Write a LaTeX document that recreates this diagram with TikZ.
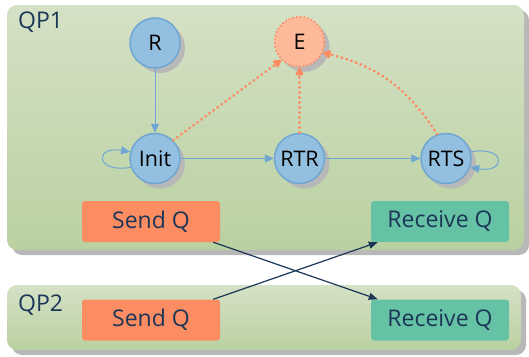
\documentclass[tikz,border=0pt]{standalone}
\usepackage{fontspec}
\setmainfont{Open Sans}
\usepackage{xcolor}
\usetikzlibrary{positioning,arrows.meta,shadows,calc}

\definecolor{qptop}{HTML}{D5E1C6}
\definecolor{qpbot}{HTML}{B9D1A1}
\definecolor{stfill}{HTML}{93BFE0}
\definecolor{stline}{HTML}{6FA6D2}
\definecolor{errfill}{HTML}{FDB99A}
\definecolor{errline}{HTML}{FC8D62}
\definecolor{sendfill}{HTML}{FC8D62}
\definecolor{recvfill}{HTML}{66C2A5}
\definecolor{navy}{HTML}{1B3656}

\begin{document}
\begin{tikzpicture}[
    x=1pt, y=-1pt,
    font=\fontsize{21.5}{25}\selectfont,
    shadowed/.style={drop shadow={shadow xshift=5pt, shadow yshift=-5pt, fill=black!28, opacity=1}},
    qpbox/.style={rounded corners=10pt, top color=qptop, bottom color=qpbot, shadowed},
    state/.style={circle, draw=stline, fill=stfill, line width=1.5pt, minimum size=50pt, inner sep=0pt, shadowed},
    errstate/.style={state, draw=errline, fill=errfill, line width=2pt, line cap=round, dash pattern=on 0.3pt off 3.5pt},
    queue/.style={rounded corners=3pt, minimum width=138pt, minimum height=41pt, text=navy, font=\fontsize{23}{27}\selectfont},
    sendq/.style={queue, fill=sendfill},
    recvq/.style={queue, fill=recvfill},
    qplabel/.style={text=navy, font=\fontsize{23}{27}\selectfont, anchor=west, inner sep=0pt},
    trans/.style={-{Triangle[length=9pt,width=8pt]}, stline, line width=1pt},
    errtrans/.style={-{Triangle[length=9pt,width=9pt,round]}, errline, line width=2.8pt, line cap=round, dash pattern=on 0.5pt off 4.5pt},
    link/.style={-{Triangle[length=9pt,width=7pt]}, navy, line width=1.2pt}
]
    \useasboundingbox (0,0) rectangle (529,356);

    % queue pair boxes
    \path[qpbox] (7,5) rectangle (524,250);
    \path[qpbox] (7,285) rectangle (521,350);
    \node[qplabel] (qp1) at (18,22) {QP1};
    \node[qplabel] (qp2) at (18,305) {QP2};

    % states
    \node[state] (r) at (155,43) {R};
    \node[state, below=64pt of r] (init) {Init};
    \node[state, right=93pt of init] (rtr) {RTR};
    \node[state, right=95pt of rtr] (rts) {RTS};
    \node[errstate, above=65pt of rtr] (e) {E};

    \draw[trans] (r) -- (init);
    \draw[trans] (init) -- (rtr);
    \draw[trans] (rtr) -- (rts);
    \draw[trans] (init.200) to[out=190, in=170, looseness=6] (init.165);
    \draw[trans] (rts.15) to[out=10, in=-10, looseness=6] (rts.-20);

    \draw[errtrans] (init.45) -- (e.225);
    \draw[errtrans] (rtr) -- (e);
    \draw[errtrans] (rts.110) to[bend right=22] (e.-25);

    % queues
    \node[sendq] (sq1) at (151,221.5) {Send Q};
    \node[recvq] (rq1) at (440,221.5) {Receive Q};
    \node[sendq] (sq2) at (151,320) {Send Q};
    \node[recvq] (rq2) at (440,320) {Receive Q};

    \draw[link] ([xshift=-7pt]sq1.south east) -- ([xshift=7pt]rq2.north west);
    \draw[link] ([xshift=-7pt]sq2.north east) -- ([xshift=7pt]rq1.south west);
\end{tikzpicture}
\end{document}
